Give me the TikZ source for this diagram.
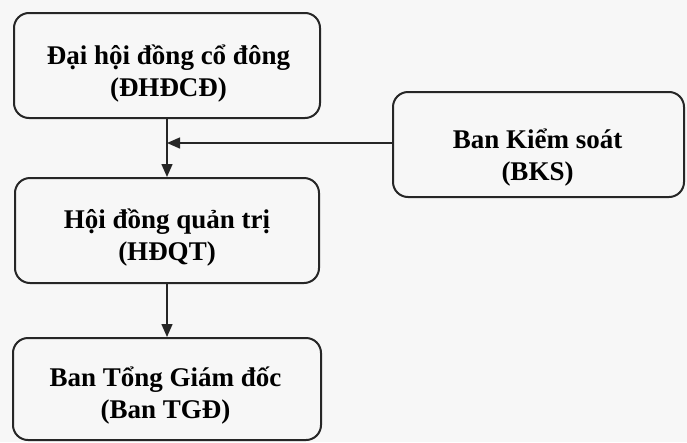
\documentclass[tikz,border=0pt]{standalone}
\usepackage{fontspec}
\setmainfont{Liberation Serif}
\usetikzlibrary{arrows.meta}
\begin{document}
\begin{tikzpicture}[x=1pt,y=-1pt,
  box/.style={draw=black!85, line width=2pt, rounded corners=15pt, inner sep=0pt},
  txt/.style={align=center, inner sep=0pt, font=\fontsize{27}{32}\selectfont\bfseries},
  conn/.style={draw=black!85, line width=1.4pt},
  tip/.style={-{Triangle[length=13pt,width=11pt]}}]
\fill[black!3] (0,0) rectangle (687,442);
\useasboundingbox (0,0) rectangle (687,442);
\node[box, minimum width=306pt, minimum height=105pt] (b1) at (167,65.5) {};
\node[box, minimum width=304pt, minimum height=105pt] (b2) at (167,230.5) {};
\node[box, minimum width=308pt, minimum height=102pt] (b3) at (167,389) {};
\node[box, minimum width=291pt, minimum height=105pt] (bks) at (538.5,144.5) {};
\node[txt] (t1) at ([xshift=1.5pt,yshift=-8pt]b1.center) {Đại hội đồng cổ đông\\(ĐHĐCĐ)};
\node[txt] (t2) at ([yshift=-7pt]b2.center) {Hội đồng quản trị\\(HĐQT)};
\node[txt] (t3) at ([xshift=-1.5pt,yshift=-7pt]b3.center) {Ban Tổng Giám đốc\\(Ban TGĐ)};
\node[txt] (t4) at ([xshift=-1pt,yshift=-13pt]bks.center) {Ban Kiểm soát\\(BKS)};
\coordinate (j) at (b1.south |- 0,143);
\coordinate (s) at (bks.west |- 0,143);
\draw[conn, tip] (b1.south) -- (b2.north);
\draw[conn, tip] (s) -- (j);
\draw[conn, tip] (b2.south) -- (b3.north);
\end{tikzpicture}
\end{document}
